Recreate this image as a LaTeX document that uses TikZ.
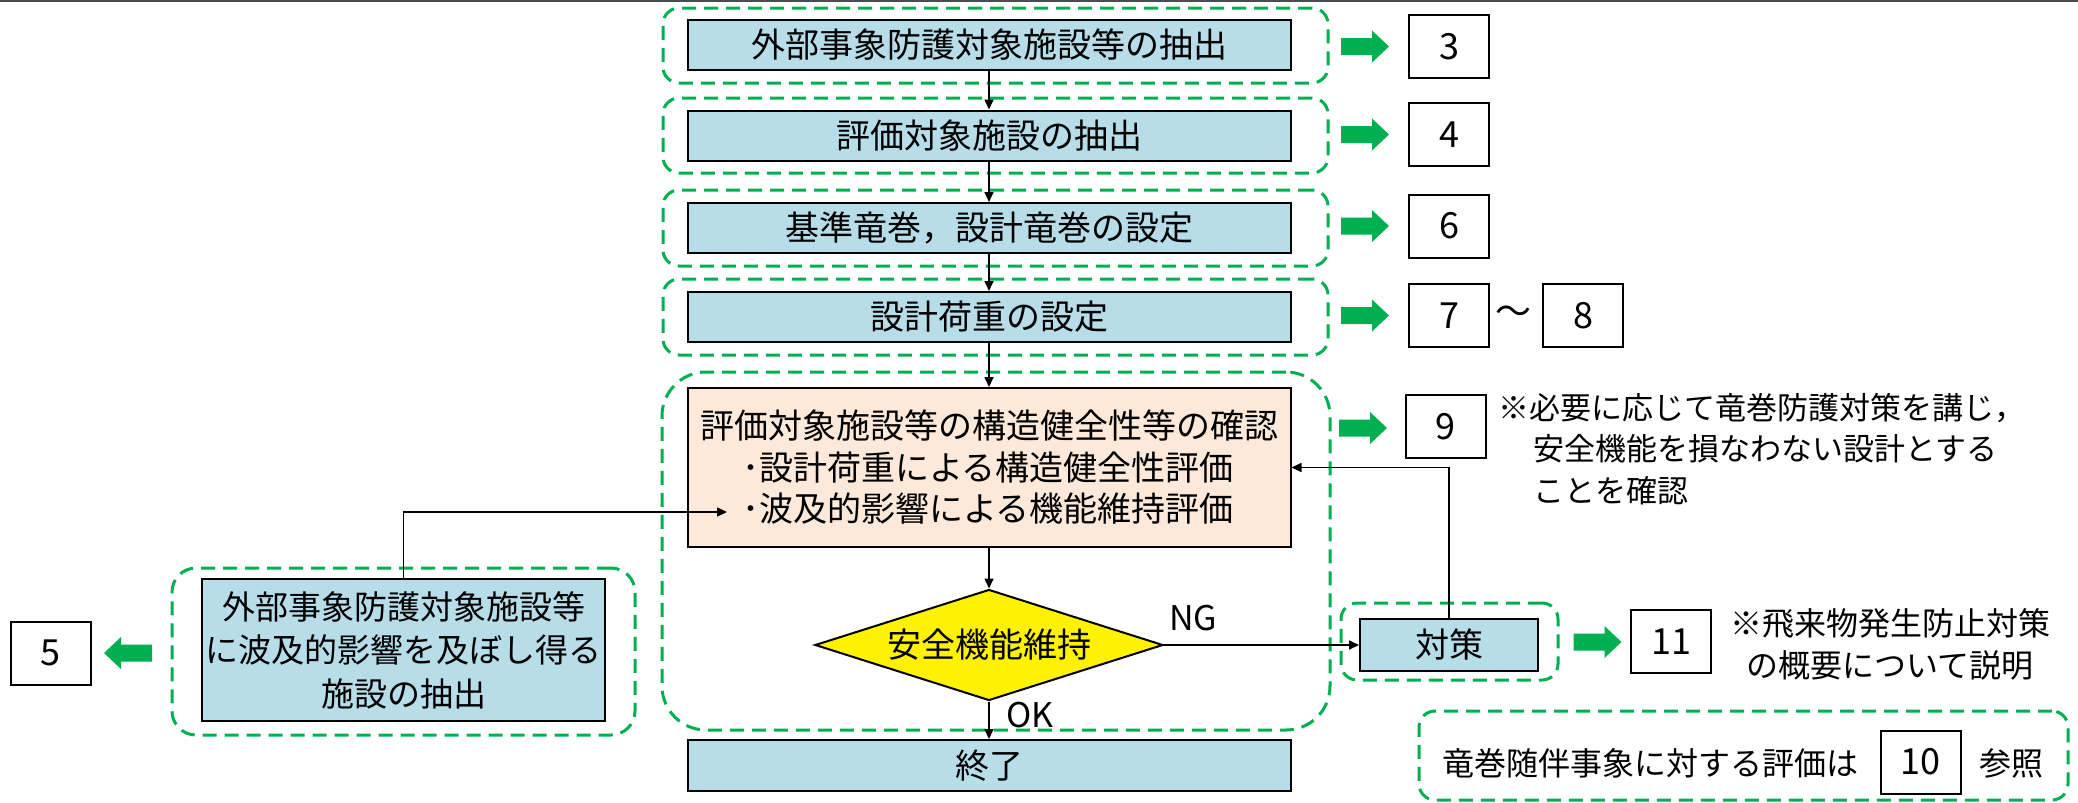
\documentclass[tikz,border=0pt]{standalone}
\usepackage{fontspec}
\setmainfont{Noto Sans CJK JP}
\usetikzlibrary{arrows.meta,shapes.geometric}
\definecolor{gfr}{HTML}{00B050}
\definecolor{bfill}{HTML}{B7DDE8}
\definecolor{ofill}{HTML}{FDE9D9}
\begin{document}
\begin{tikzpicture}[x=0.5pt,y=-0.5pt,
  frame/.style={draw=gfr, line width=1.5pt, dash pattern=on 7pt off 4pt, rounded corners=8pt, inner sep=0pt},
  bluebox/.style={draw=black, line width=1pt, fill=bfill, inner sep=0pt, minimum width=301.5pt, minimum height=25pt, font=\fontsize{17pt}{20pt}\selectfont},
  numbox/.style={draw=black, line width=1pt, fill=white, inner sep=0pt, minimum width=40pt, minimum height=31.5pt, font=\fontsize{18pt}{20pt}\selectfont},
  conn/.style={draw=black, line width=0.8pt, -{Triangle[length=5pt,width=4.5pt]}},
  lbl/.style={font=\fontsize{17pt}{20pt}\selectfont, inner sep=0pt},
  note/.style={font=\fontsize{16pt}{21pt}\selectfont, inner sep=0pt},
  garrow/.pic={\fill[gfr] (-24,-8.5) -- (7,-8.5) -- (7,-16) -- (24,0) -- (7,16) -- (7,8.5) -- (-24,8.5) -- cycle;}
]
\useasboundingbox (0,0) rectangle (2078,803);
\draw[gray!60!black, line width=0.8pt] (0,1) -- (2078,1);

% dashed frames
\node[frame, minimum width=332.5pt, minimum height=37.5pt] (f1) at (995.5,45.5) {};
\node[frame, minimum width=332.5pt, minimum height=37.5pt] (f2) at (995.5,135.5) {};
\node[frame, minimum width=332.5pt, minimum height=38pt] (f3) at (995.5,228) {};
\node[frame, minimum width=332.5pt, minimum height=38pt] (f4) at (995.5,317) {};
\node[frame, rounded corners=22pt, minimum width=334pt, minimum height=179pt] (fb) at (996,551) {};
\node[frame, minimum width=108.5pt, minimum height=38.5pt] (ft) at (1449.5,641.5) {};
\node[frame, rounded corners=12pt, minimum width=231.5pt, minimum height=83.5pt] (fl) at (403.5,651.5) {};
\node[frame, minimum width=324.5pt, minimum height=44.5pt] (fr) at (1743.5,755.5) {};

% main column
\node[bluebox] (b1) at (989,45) {外部事象防護対象施設等の抽出};
\node[bluebox] (b2) at (989,135.5) {評価対象施設の抽出};
\node[bluebox] (b3) at (989,228) {基準竜巻，設計竜巻の設定};
\node[bluebox] (b4) at (989,317) {設計荷重の設定};
\node[bluebox, fill=ofill, minimum height=79.5pt, align=left, font=\fontsize{17pt}{20.75pt}\selectfont] (ev) at (989,467.5)
  {評価対象施設等の構造健全性等の確認\\\hspace*{21pt}･設計荷重による構造健全性評価\\\hspace*{21pt}･波及的影響による機能維持評価};
\node[diamond, draw=black, line width=1pt, fill=yellow, inner sep=0pt, shape aspect=3.2, minimum width=174pt, minimum height=55.5pt, font=\fontsize{17pt}{20pt}\selectfont] (dm) at (989,645) {安全機能維持};
\node[bluebox, minimum height=25.5pt] (end) at (989,765.5) {終了};
\node[bluebox, minimum width=89pt, minimum height=26pt] (ts) at (1449,645) {対策};
\node[bluebox, minimum width=201.5pt, minimum height=71pt, align=center, font=\fontsize{16.5pt}{21.75pt}\selectfont] (lb) at (403.5,650)
  {外部事象防護対象施設等\\に波及的影響を及ぼし得る\\施設の抽出};

% number boxes
\node[numbox] (n3) at (1449,46.5) {3};
\node[numbox] (n4) at (1449,134.5) {4};
\node[numbox] (n6) at (1449,226) {6};
\node[numbox] (n7) at (1449,315.5) {7};
\node[lbl, font=\fontsize{18pt}{20pt}\selectfont] (tl) at (1513,315.5) {〜};
\node[numbox] (n8) at (1583,315.5) {8};
\node[numbox] (n9) at (1445.5,426.5) {9};
\node[numbox] (n11) at (1671,641.5) {11};
\node[numbox] (n10) at (1920.5,762) {10};
\node[numbox] (n5) at (50.5,653) {5};

% green arrows
\pic at (1365,46.5) {garrow};
\pic at (1365,134.5) {garrow};
\pic at (1365,226) {garrow};
\pic at (1365,315.5) {garrow};
\pic at (1363,428) {garrow};
\pic at (1597.5,642) {garrow};
\pic[rotate=180] at (128,653) {garrow};

% notes
\node[note, font=\fontsize{15.5pt}{20.75pt}\selectfont, anchor=west, align=left] (nt9) at (1498,449)
  {※必要に応じて竜巻防護対策を講じ，\\\hspace*{17.5pt}安全機能を損なわない設計とする\\\hspace*{17.5pt}ことを確認};
\node[note, align=center] (nt11) at (1890,644) {※飛来物発生防止対策\\の概要について説明};
\node[note] (rt) at (1650,763) {竜巻随伴事象に対する評価は};
\node[note] (rs) at (2011,763) {参照};

% connectors
\draw[conn] (b1) -- (b2);
\draw[conn] (b2) -- (b3);
\draw[conn] (b3) -- (b4);
\draw[conn] (b4) -- (ev);
\draw[conn] (ev) -- (dm);
\draw[conn] (dm) -- (end);
\draw[conn] (dm) -- (ts);
\draw[conn] (ts.north) |- (ev.east);
\coordinate (lin) at (727,512);
\draw[conn] (lb.north) |- (lin);
\node[lbl] (ng) at (1193,618) {NG};
\node[lbl] (ok) at (1030,715) {OK};
\end{tikzpicture}
\end{document}
